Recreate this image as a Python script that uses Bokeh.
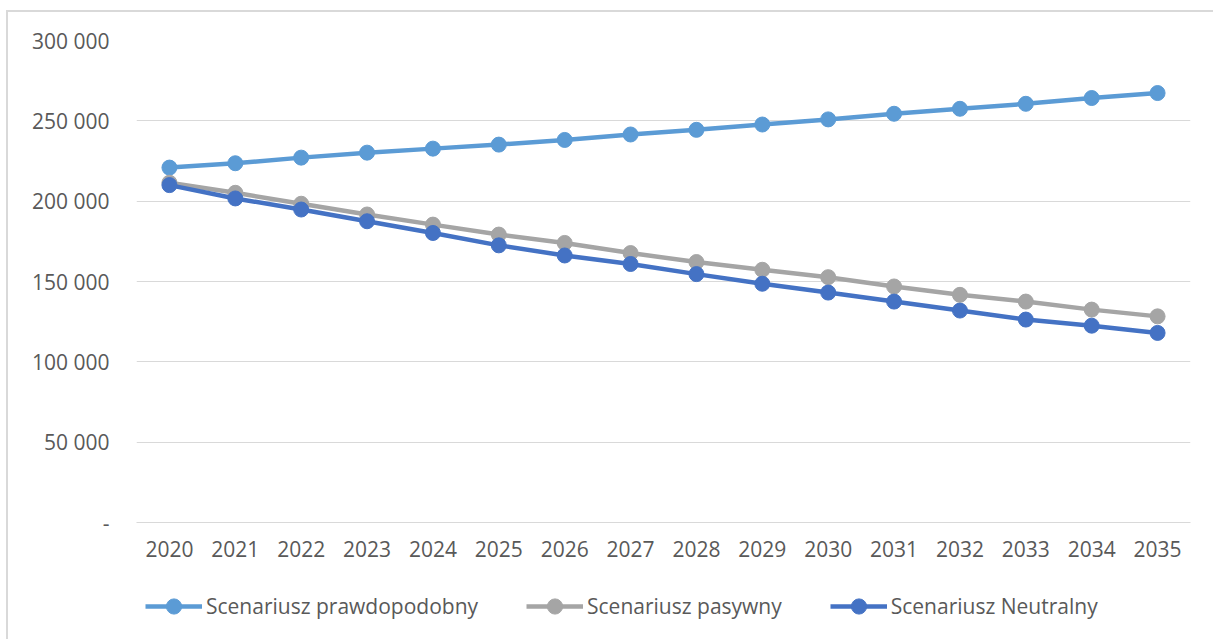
from bokeh.plotting import figure
from bokeh.layouts import column
from bokeh.models import FactorRange, Range1d, FixedTicker, Legend, LegendItem
from bokeh.embed import file_html
from bokeh.resources import INLINE

years = [str(y) for y in range(2020, 2036)]
prawdopodobny = [220900, 223600, 227100, 230200, 232700, 235200, 238100, 241500,
                 244400, 247700, 250900, 254400, 257500, 260600, 264200, 267300]
pasywny = [211500, 205200, 198400, 191700, 185400, 179200, 174000, 167700,
           162100, 157300, 152700, 146900, 141700, 137500, 132500, 128300]
neutralny = [210000, 201700, 194800, 187500, 180200, 172500, 166200, 160900,
             154600, 148600, 143100, 137500, 131900, 126300, 122500, 118000]
series_names = ["Scenariusz prawdopodobny", "Scenariusz pasywny", "Scenariusz Neutralny"]
series_values = [prawdopodobny, pasywny, neutralny]
colors = ["#5B9BD5", "#A5A5A5", "#4472C4"]
y_ticks = [0, 50000, 100000, 150000, 200000, 250000, 300000]
y_tick_labels = ["-", "50 000", "100 000", "150 000", "200 000", "250 000", "300 000"]

FONT = "Open Sans"
TXT = "#595959"
FS = "21px"

# ---------------- main chart ----------------
p = figure(width=1213, height=580, x_range=FactorRange(factors=years),
           y_range=Range1d(0, 300000), output_backend="svg", toolbar_location=None,
           min_border_left=136, min_border_right=23, min_border_top=40, min_border_bottom=58)
p.outline_line_color = None
p.background_fill_color = "white"
p.border_fill_alpha = 0

p.yaxis.ticker = FixedTicker(ticks=y_ticks)
p.yaxis.major_label_overrides = {t: l for t, l in zip(y_ticks, y_tick_labels)}
p.yaxis.axis_line_color = None
p.yaxis.major_tick_line_color = None
p.yaxis.minor_tick_line_color = None
p.yaxis.major_tick_out = 0
p.yaxis.major_label_standoff = 27
p.yaxis.major_label_text_font = FONT
p.yaxis.major_label_text_font_size = FS
p.yaxis.major_label_text_color = TXT

p.xaxis.axis_line_color = "#D9D9D9"
p.xaxis.axis_line_width = 1
p.xaxis.major_tick_line_color = None
p.xaxis.major_tick_out = 0
p.xaxis.major_label_standoff = 18
p.xaxis.major_label_text_font = FONT
p.xaxis.major_label_text_font_size = FS
p.xaxis.major_label_text_color = TXT

p.xgrid.grid_line_color = None
p.ygrid.grid_line_color = "#D9D9D9"
p.ygrid.grid_line_width = 1

for vals, c in zip(series_values, colors):
    p.line(years, vals, line_color=c, line_width=4.5)
    p.scatter(years, vals, size=15, fill_color=c, line_color=c)

# ---------------- legend strip ----------------
# same series drawn with a y range far from the data, so only the legend shows
p2 = figure(width=1213, height=59, x_range=FactorRange(factors=years),
            y_range=Range1d(-2, -1), output_backend="svg", toolbar_location=None,
            x_axis_location=None, y_axis_location=None,
            min_border_left=0, min_border_right=0, min_border_top=0, min_border_bottom=0)
p2.outline_line_color = None
p2.background_fill_alpha = 0
p2.border_fill_alpha = 0
p2.xgrid.grid_line_color = None
p2.ygrid.grid_line_color = None

items = []
for name, vals, c in zip(series_names, series_values, colors):
    l = p2.line(years, vals, line_color=c, line_width=4.5)
    s = p2.scatter(years, vals, size=15, fill_color=c, line_color=c)
    items.append(LegendItem(label=name, renderers=[l, s]))

legend = Legend(items=items, orientation="horizontal", location=(9, 14),
                glyph_width=57, glyph_height=38, label_standoff=4, spacing=48,
                padding=0, margin=0, border_line_color=None, background_fill_alpha=0,
                label_text_font=FONT, label_text_font_size=FS, label_text_color=TXT)
p2.add_layout(legend, "center")

layout = column(p, p2, spacing=0)
# chart border (left and top edges) drawn behind the transparent canvases
layout.styles = {
    "background": ("linear-gradient(#D9D9D9, #D9D9D9) 6px 10px / 2px 100% no-repeat, "
                   "linear-gradient(#D9D9D9, #D9D9D9) 6px 10px / 100% 2px no-repeat, white"),
}

open("out.html", "w").write(file_html(layout, INLINE))
